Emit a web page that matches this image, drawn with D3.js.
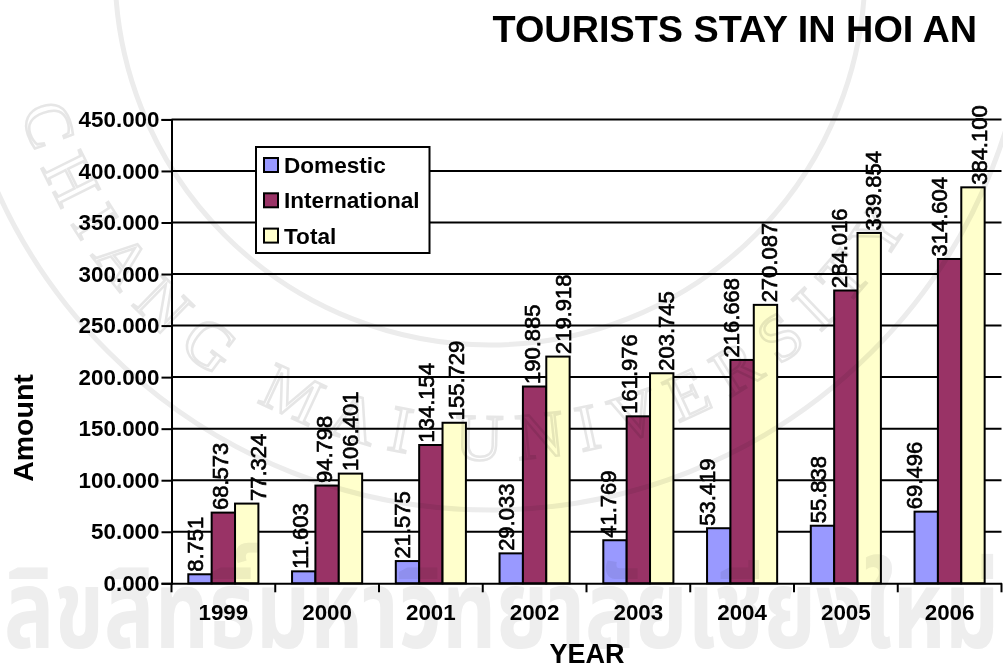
<!DOCTYPE html>
<html><head><meta charset="utf-8">
<script src="https://cdn.jsdelivr.net/npm/d3@7/dist/d3.min.js"></script>
<style>html,body{margin:0;background:#fff}svg{display:block;font-family:"Liberation Sans",Arial,sans-serif}</style>
</head><body><svg id="c" width="1003" height="666"></svg>
<script>
const years=["1999","2000","2001","2002","2003","2004","2005","2006"];
const seriesNames=["Domestic","International","Total"];
const domestic=[8.751,11.603,21.575,29.033,41.769,53.419,55.838,69.496];
const international=[68.573,94.798,134.154,190.885,161.976,216.668,284.016,314.604];
const total=[77.324,106.401,155.729,219.918,203.745,270.087,339.854,384.100];
const yTicks=[0,50,100,150,200,250,300,350,400,450];
const colors=["#9999ff","#993366","#ffffcc"];
const seriesValues=[domestic,international,total];
// hand-placed label nudges seen in the reference (px from bar centre)
const nudgeDomestic=[3,4.5,2.5,3,1.5,-3.5,3.5,-4];
const nudgeInternational=[5,5,3,5,-1.5,-3.5,1,-3];
const nudgeTotal=[19,8,10,13.5,12,12,11.5,14];
const nudges=[nudgeDomestic,nudgeInternational,nudgeTotal];
const svg=d3.select("#c");

const m={l:171.5,r:1001.5,t:119.4,b:583.3};
const x=d3.scaleBand().domain(years).range([m.l,m.r]);
const bars=d3.scaleBand().domain(seriesNames).range([16.8,86.9]);
const y=d3.scaleLinear().domain([0,450]).range([m.b,m.t]);

// gridlines
svg.append("g").selectAll("line").data(yTicks.slice(1)).join("line")
 .attr("x1",m.l).attr("x2",m.r).attr("y1",y).attr("y2",y).attr("stroke","#000").attr("stroke-width",2);

// bars
seriesNames.forEach((s,i)=>{
 svg.append("g").selectAll("rect").data(seriesValues[i]).join("rect")
  .attr("x",(d,j)=>x(years[j])+bars(s)).attr("width",bars.bandwidth())
  .attr("y",d=>y(d)).attr("height",d=>y(0)-y(d))
  .attr("fill",colors[i]).attr("stroke","#000").attr("stroke-width",2);
});

// axes
const ay=svg.append("g").attr("transform",`translate(${m.l},0)`).call(d3.axisLeft(y).tickValues(yTicks).tickFormat(d3.format(".3f")).tickSize(10).tickPadding(2));
const ax=svg.append("g").attr("transform",`translate(0,${m.b})`).call(d3.axisBottom(x).tickSize(0).tickPadding(21));
ax.append("g").selectAll("line").data(d3.range(years.length+1)).join("line")
 .attr("x1",i=>m.l+i*x.step()).attr("x2",i=>m.l+i*x.step()).attr("y1",0).attr("y2",9).attr("stroke","#000").attr("stroke-width",2);
[ay,ax].forEach(a=>{a.selectAll("path,line").attr("stroke","#000").attr("stroke-width",2);
 a.selectAll("text").attr("font-family","inherit").attr("font-weight",700).attr("fill","#000").attr("font-size",22.4);});

// data labels
seriesNames.forEach((s,i)=>{
 svg.append("g").selectAll("text").data(seriesValues[i]).join("text")
  .attr("transform",(d,j)=>`translate(${x(years[j])+bars(s)+bars.bandwidth()/2+nudges[i][j]},${y(d)-2.5}) rotate(-90)`)
  .attr("font-size",22).attr("fill","#000").attr("stroke","#000").attr("stroke-width",0.65)
  .text(d=>d3.format(".3f")(d));
});

// legend
const lg=svg.append("g").attr("transform","translate(256,147)");
lg.append("rect").attr("width",173.5).attr("height",106).attr("fill","#fff").attr("stroke","#000").attr("stroke-width",2);
seriesNames.forEach((s,i)=>{
 const row=lg.append("g").attr("transform",`translate(8,${11+i*35.3})`);
 row.append("rect").attr("width",14).attr("height",14).attr("fill",colors[i]).attr("stroke","#000").attr("stroke-width",2);
 row.append("text").attr("x",20).attr("y",15).attr("font-size",22.6).attr("font-weight",700).text(s);
});

// titles
svg.append("text").attr("x",977).attr("y",42).attr("text-anchor","end").attr("font-size",37.8).attr("font-weight",700).text("TOURISTS STAY IN HOI AN");
svg.append("text").attr("x",587).attr("y",663).attr("text-anchor","middle").attr("font-size",27).attr("font-weight",700).text("YEAR");
svg.append("text").attr("transform","translate(33,428) rotate(-90)").attr("text-anchor","middle").attr("font-size",28.5).attr("font-weight",700).text("Amount");

// faint seal watermark, multiplied over everything as in the reference
const wm=svg.append("g").style("mix-blend-mode","multiply");
const cx=490,cy=-30;
[540,375].forEach(r=>wm.append("circle").attr("cx",cx).attr("cy",cy).attr("r",r).attr("fill","none").attr("stroke","#ececec").attr("stroke-width",5));
const p=d3.path(); p.arc(cx,cy,490,2.85,0.55,true);
svg.append("defs").append("path").attr("id","sealArc").attr("d",p.toString());
wm.append("text").attr("font-family","'Liberation Serif',serif").attr("font-size",66).attr("fill","none").attr("stroke","#e6e6e6").attr("stroke-width",2.5)
 .append("textPath").attr("href","#sealArc").attr("textLength",1130).text("CHIANG MAI UNIVERSITY");
wm.append("text").attr("x",4).attr("y",648).attr("font-family","'Noto Sans Thai','Noto Sans','DejaVu Sans',sans-serif").attr("font-size",110).attr("font-weight",700).attr("fill","#eeeeee").attr("textLength",995).attr("lengthAdjust","spacingAndGlyphs").text("ลิขสิทธิ์มหาวิทยาลัยเชียงใหม่");
</script></body></html>
